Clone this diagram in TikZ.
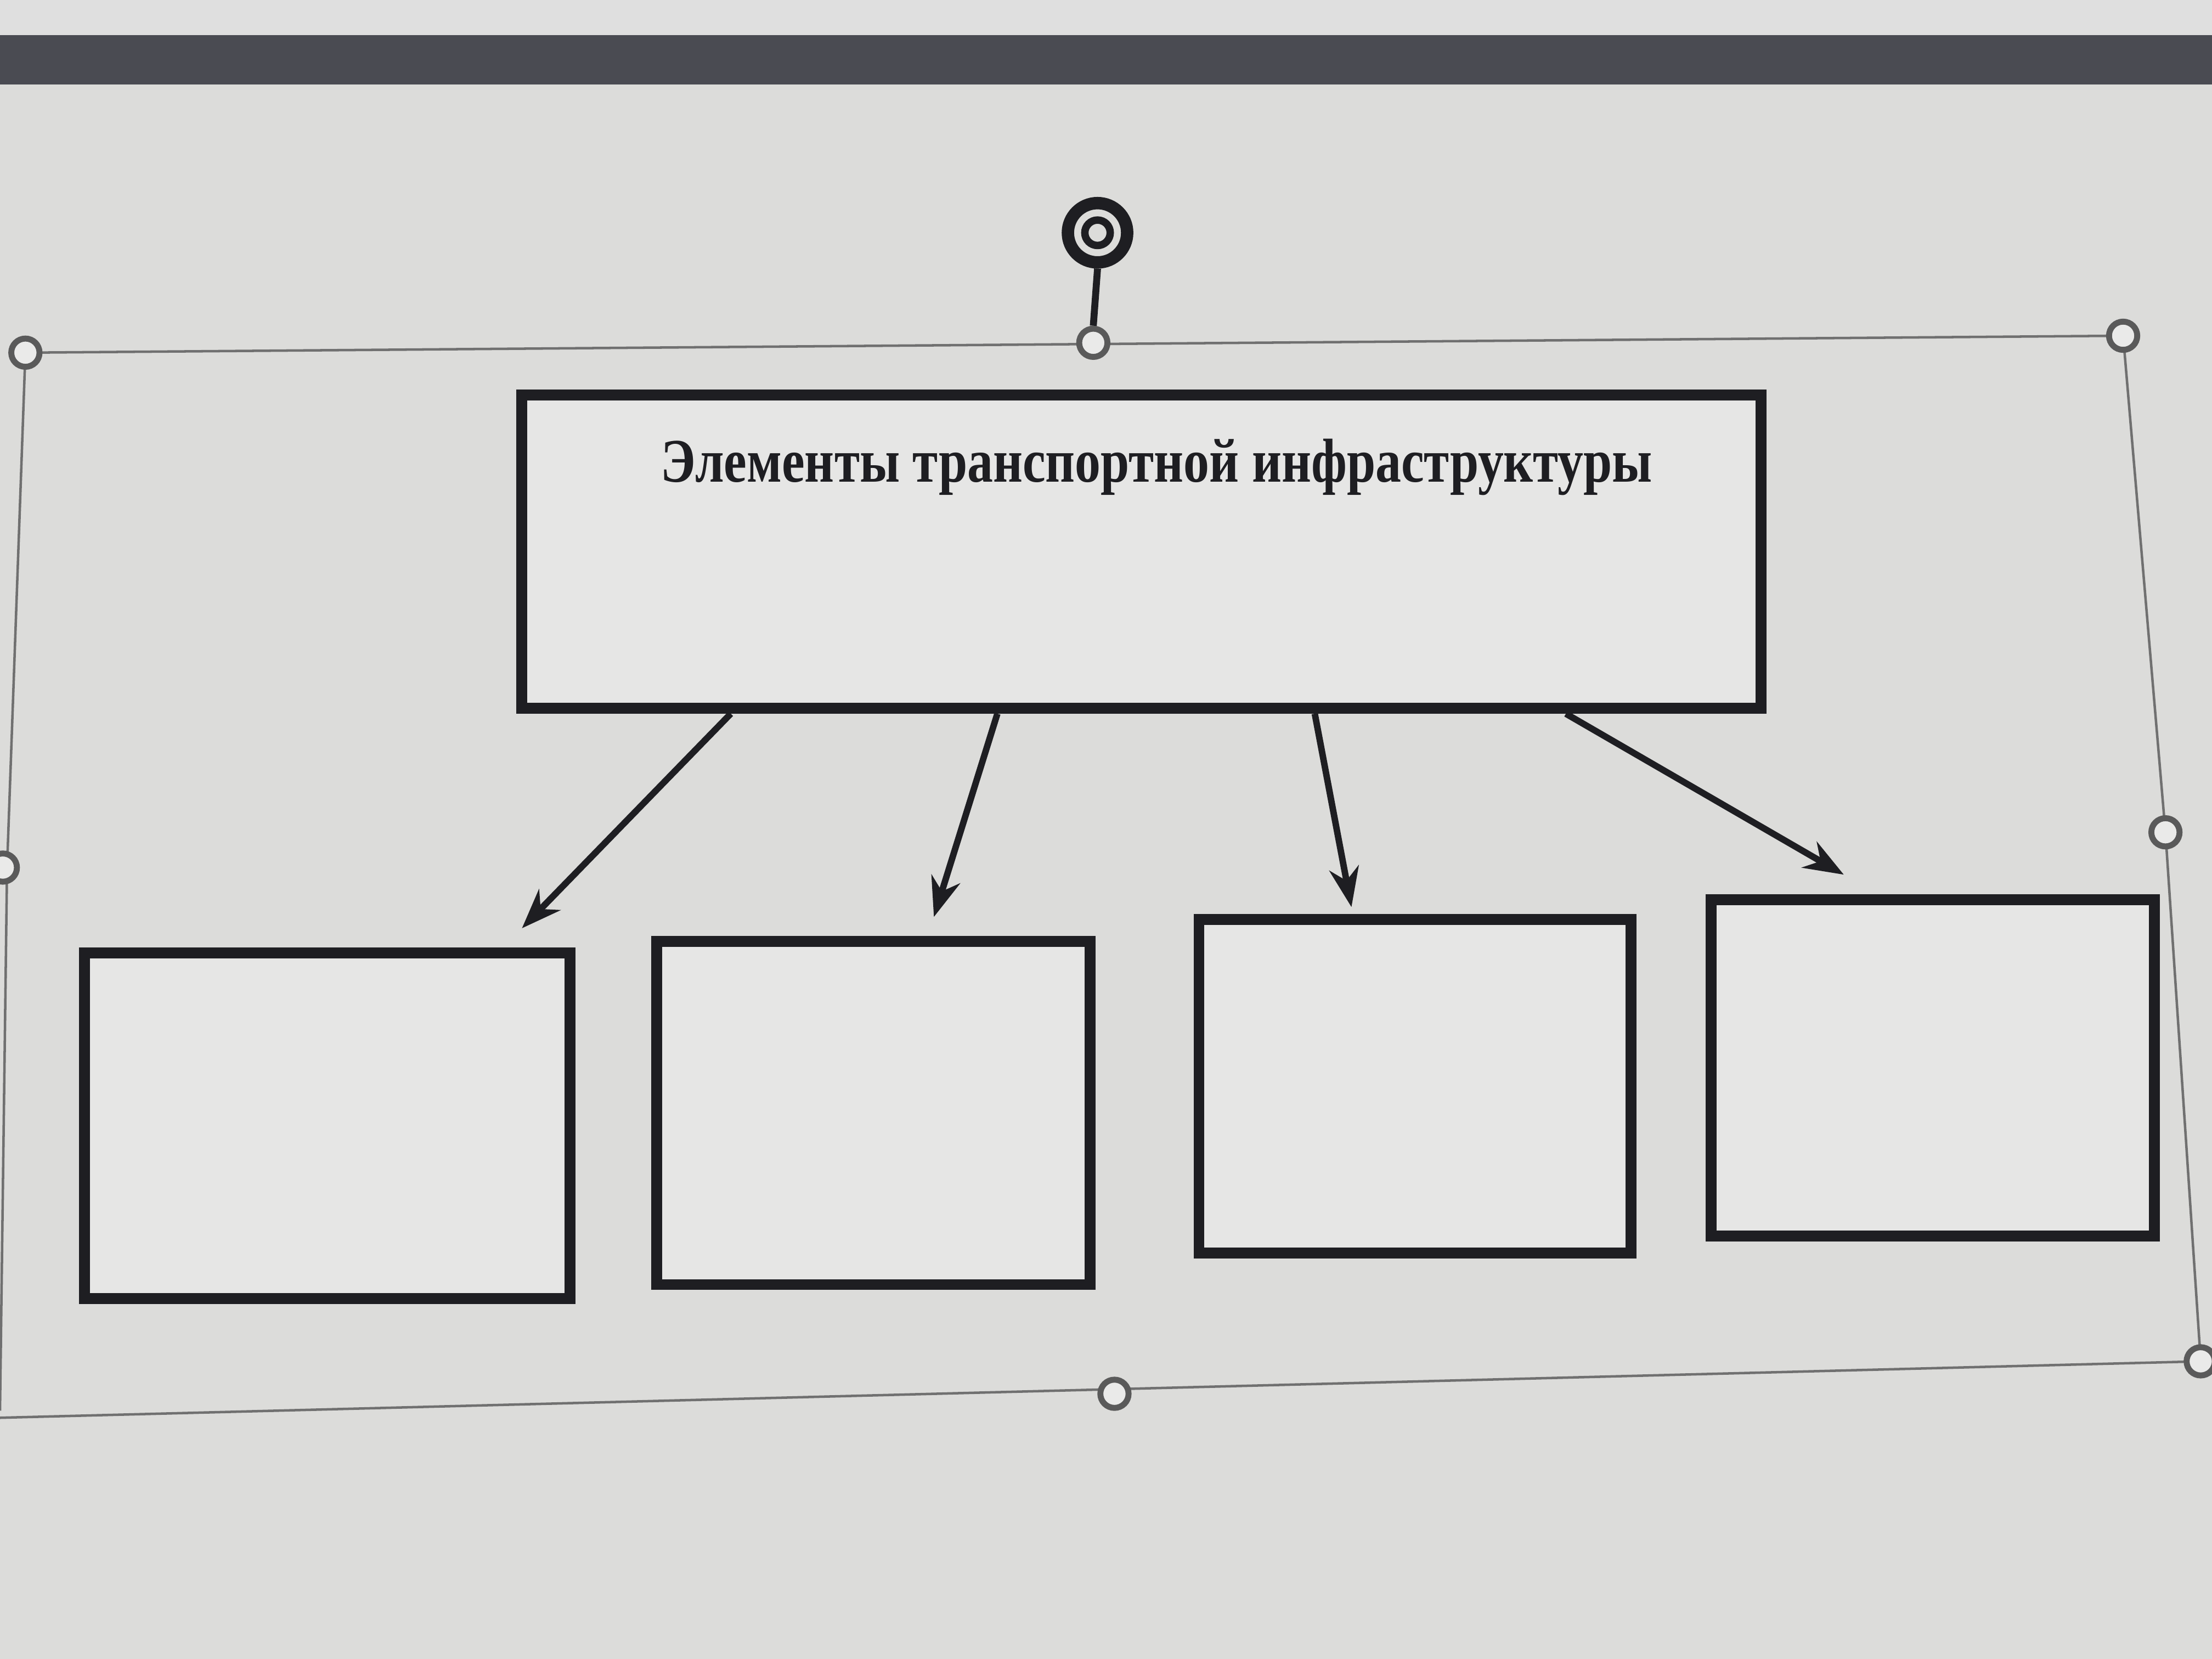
\documentclass[tikz,border=0pt]{standalone}
\usepackage{fontspec}
\setmainfont{Liberation Serif}
\usetikzlibrary{arrows.meta}
\definecolor{bgc}{HTML}{DCDCDA}
\definecolor{bandc}{HTML}{4A4B52}
\definecolor{inkc}{HTML}{1E1E22}
\definecolor{selc}{HTML}{707070}
\tikzset{
  box/.style={draw=inkc, line width=2.2pt, fill=bgc!70!white, minimum width=#1, inner sep=0pt},
  arr/.style={draw=inkc, line width=1.3pt, -{Stealth[length=8pt,width=6pt]}},
  sel/.style={draw=selc, line width=0.5pt},
  handle/.style={circle, draw=selc!80!black, line width=1.2pt, fill=bgc!60!white, minimum size=0.2cm, inner sep=0pt},
}
\begin{document}
\begin{tikzpicture}[x=0.01cm,y=-0.01cm]
\useasboundingbox (0,0) rectangle (1568,1176);
\fill[bgc] (0,0) rectangle (1568,1176);
\fill[gray!25] (0,0) rectangle (1568,25);
\fill[bandc] (0,25) rectangle (1568,60);
% selection frame
\coordinate (f1) at (18,250);
\coordinate (f2) at (1505,238);
\coordinate (f3) at (1560,965);
\coordinate (f4) at (0,1005);
\draw[sel] (f1) -- (f2);
\draw[sel] (f2) -- (1535,590) -- (f3);
\draw[sel] (f4) -- (f3);
\draw[sel] (f1) -- (5,615) -- (0,1000);
\node[handle] (h1) at (18,250) {};
\node[handle] (h2) at (775,243) {};
\node[handle] (h3) at (1505,238) {};
\node[handle] (h4) at (1535,590) {};
\node[handle] (h5) at (790,988) {};
\node[handle] (h6) at (1560,965) {};
\node[handle] (h7) at (2,615) {};
\node[circle, draw=inkc, line width=2.5pt, minimum size=0.42cm, inner sep=0pt] (rot) at (778,165) {};
\node[circle, draw=inkc, line width=1.5pt, minimum size=0.18cm, inner sep=0pt] (rotin) at (778,165) {};
\draw[inkc, line width=1.4pt] (rot.south) -- (h2.north);
% diagram
\node[box=8.78cm, minimum height=2.22cm] (top) at (809,391) {};
\node[font=\fontsize{12.5}{14}\selectfont\bfseries, text=inkc] (title) at (820,331) {\scalebox{0.83}[1]{Элементы транспортной инфраструктуры}};
\node[box=3.44cm, minimum height=2.45cm] (b1) at (232,798) {};
\node[box=3.07cm, minimum height=2.43cm] (b2) at (619,789) {};
\node[box=3.06cm, minimum height=2.36cm] (b3) at (1003,770) {};
\node[box=3.14cm, minimum height=2.38cm] (b4) at (1370,757) {};
\coordinate (e1) at (370,658);
\coordinate (e2) at (662,650);
\coordinate (e3) at (958,643);
\coordinate (e4) at (1307,620);
\draw[arr] (top.south -| 518,0) -- (e1);
\draw[arr] (top.south -| 707,0) -- (e2);
\draw[arr] (top.south -| 932,0) -- (e3);
\draw[arr] (top.south -| 1110,0) -- (e4);
\end{tikzpicture}
\end{document}
